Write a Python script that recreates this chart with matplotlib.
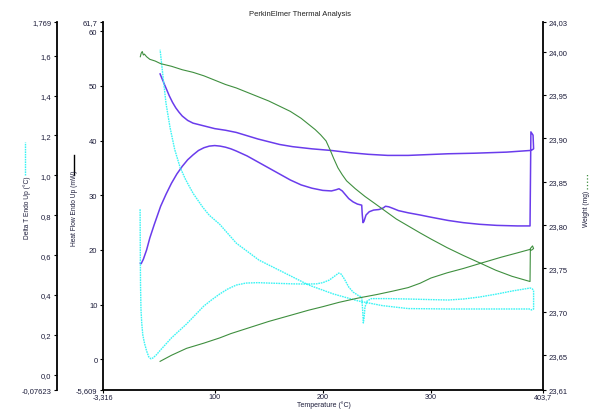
import numpy as np
import matplotlib.pyplot as plt
from matplotlib.lines import Line2D

plt.rcParams['font.family'] = ['Liberation Sans', 'DejaVu Sans']

###################################################################
# heat flow (mW) - heating run, then cooling run
hf_heat_T = [31.2, 32, 34, 37, 40, 44, 50, 55, 60, 65, 70, 75, 80, 85, 90,
             95, 100, 105, 110, 115, 120, 130, 140, 150, 160, 170, 180, 190,
             200, 208, 212, 215, 218, 221, 224, 228, 232, 236, 236.5, 237.2,
             238, 240, 243, 247, 252, 256, 258, 261, 265, 270, 279, 290, 300,
             316, 330, 345, 361, 380, 391.7]
hf_heat = [17.6, 17.5, 18.3, 20.0, 22.2, 24.6, 28.0, 30.2, 32.2, 33.9, 35.3,
           36.5, 37.4, 38.2, 38.7, 39.0, 39.1, 39.0, 38.8, 38.5, 38.1, 37.2,
           36.1, 35.0, 33.9, 32.8, 31.9, 31.3, 30.9, 30.8, 31.0, 31.2, 30.8,
           30.1, 29.4, 28.8, 28.4, 28.2, 26.5, 25.0, 25.2, 26.4, 27.0, 27.3,
           27.4, 27.7, 28.0, 27.9, 27.6, 27.2, 26.8, 26.4, 26.0, 25.4, 25.0,
           24.7, 24.5, 24.4, 24.4]
hf_turn_T = [392.5, 394.5, 395, 393.5]
hf_turn = [41.6, 41.0, 38.5, 38.3]
hf_cool_T = [391.7, 370, 340, 316, 279, 260, 242, 225, 208, 190, 172, 160,
             150, 140, 130, 120, 110, 100, 90, 80, 75, 70, 67, 64, 61, 58,
             55, 52, 49.5]
hf_cool = [38.2, 37.9, 37.7, 37.6, 37.3, 37.3, 37.5, 37.8, 38.2, 38.5, 38.9,
           39.3, 39.8, 40.3, 40.9, 41.5, 41.9, 42.2, 42.7, 43.2, 43.7, 44.5,
           45.2, 46.0, 47.0, 48.2, 49.6, 51.0, 52.2]

# delta T (C)
dt_heat_T = [31, 31.1, 31.2, 31.4, 31.8, 32.5, 33.5, 35, 37, 39, 41, 43, 46,
             50, 55, 60, 67, 74, 82, 90, 97, 104.6, 112, 120, 129, 140, 150,
             172, 185, 194, 200, 206, 211, 214.7, 217, 220, 224, 228, 233,
             236, 236.8, 237.5, 238.3, 239, 241, 245, 260, 279, 300, 316,
             330, 345, 361, 375, 391.7]
dt_heat = [0.83, 0.7, 0.6, 0.45, 0.33, 0.26, 0.2, 0.16, 0.12, 0.09, 0.08,
           0.085, 0.1, 0.125, 0.155, 0.185, 0.22, 0.255, 0.3, 0.345, 0.375,
           0.405, 0.43, 0.45, 0.46, 0.462, 0.46, 0.456, 0.455, 0.456, 0.462,
           0.475, 0.495, 0.51, 0.505, 0.48, 0.44, 0.415, 0.397, 0.39, 0.33,
           0.26, 0.29, 0.34, 0.37, 0.382, 0.382, 0.38, 0.377, 0.375, 0.38,
           0.39, 0.405, 0.42, 0.435]
dt_turn_T = [392, 394, 395, 395, 393]
dt_turn = [0.435, 0.43, 0.42, 0.33, 0.325]
dt_cool_T = [391.7, 360, 316, 279, 255, 233, 210, 187, 165, 141, 120, 104.6,
             95, 89, 80, 73, 68, 63, 58.7, 55, 52.3, 49.5]
dt_cool = [0.33, 0.33, 0.33, 0.332, 0.347, 0.37, 0.405, 0.45, 0.51, 0.575,
           0.66, 0.755, 0.8, 0.84, 0.91, 0.98, 1.04, 1.13, 1.24, 1.36, 1.49,
           1.63]

# weight (mg)
w_heat_T = [31.2, 32, 33, 34, 35, 37, 40, 45, 50, 60, 70, 80, 90, 100, 110,
            120, 130, 140, 150, 160, 170, 180, 187, 193, 198, 203, 207, 210,
            214, 218, 222, 230, 239, 248, 258, 268, 279, 290, 300, 315, 330,
            346, 360, 375, 391.7]
w_heat = [23.994, 23.998, 24.0, 23.996, 23.997, 23.994, 23.991, 23.989,
          23.986, 23.983, 23.979, 23.976, 23.972, 23.967, 23.962, 23.958,
          23.953, 23.948, 23.943, 23.937, 23.931, 23.923, 23.916, 23.91,
          23.904, 23.897, 23.886, 23.877, 23.866, 23.858, 23.851, 23.842,
          23.833, 23.825, 23.816, 23.807, 23.799, 23.791, 23.784, 23.774,
          23.765, 23.756, 23.748, 23.741, 23.735]
w_turn_T = [392, 394, 395, 393]
w_turn = [23.773, 23.776, 23.773, 23.771]
w_cool_T = [391.7, 380, 365, 346, 330, 315, 300, 290, 279, 265, 250, 233,
            215, 200, 187, 170, 150, 130, 115, 104.6, 90, 74, 60, 49.5]
w_cool = [23.772, 23.768, 23.763, 23.756, 23.75, 23.745, 23.739, 23.733,
          23.728, 23.724, 23.72, 23.716, 23.711, 23.706, 23.702, 23.696,
          23.689, 23.681, 23.675, 23.67, 23.664, 23.658, 23.65, 23.643]

# axis ranges / tick labels (comma decimals as in the original)
x_rng = (-3.316, 403.7)
x_ticks = [-3.316, 100, 200, 300, 403.7]
x_lbls = ['-3,316', '100', '200', '300', '403,7']
hf_rng = (-5.609, 61.7)
hf_ticks = [-5.609, 0, 10, 20, 30, 40, 50, 60, 61.7]
hf_lbls = ['-5,609', '0', '10', '20', '30', '40', '50', '60', '61,7']
dt_rng = (-0.07623, 1.769)
dt_ticks = [-0.07623, 0.0, 0.2, 0.4, 0.6, 0.8, 1.0, 1.2, 1.4, 1.6, 1.769]
dt_lbls = ['-0,07623', '0,0', '0,2', '0,4', '0,6', '0,8', '1,0', '1,2',
           '1,4', '1,6', '1,769']
w_rng = (23.61, 24.034)
w_ticks = [23.61, 23.65, 23.70, 23.75, 23.80, 23.85, 23.90, 23.95, 24.00,
           24.034]
w_lbls = ['23,61', '23,65', '23,70', '23,75', '23,80', '23,85', '23,90',
          '23,95', '24,00', '24,03']
###################################################################

purple = '#6a3cec'
cyan = '#3cf4f4'
green = '#3f8f3f'
tcol = '#1c1c3a'
fs = 5.5

fig = plt.figure(figsize=(5.93, 4.10), dpi=100)
ax = fig.add_axes([103/593, 19/410, 440/593, 368/410])
axd = ax.twinx()
axw = ax.twinx()

# heat flow
ax.plot(hf_heat_T + hf_turn_T + hf_cool_T, hf_heat + hf_turn + hf_cool,
        color=purple, lw=1.1)
ax.set_xlim(*x_rng)
ax.set_ylim(*hf_rng)

# delta T on a second left axis, 46 px left of the heat flow one
axd.plot(dt_heat_T + dt_turn_T + dt_cool_T, dt_heat + dt_turn + dt_cool,
         color=cyan, lw=1.0, ls=(0, (1.2, 0.6)))
axd.set_ylim(*dt_rng)
axd.yaxis.set_ticks_position('left')
axd.spines['left'].set_position(('outward', 46 * 72 / 100))

# weight
axw.plot(w_heat_T + w_turn_T + w_cool_T, w_heat + w_turn + w_cool,
         color=green, lw=0.8)
axw.set_ylim(*w_rng)

for a in (ax, axd, axw):
    for s in a.spines.values():
        s.set_visible(False)
        s.set_linewidth(1.3)
ax.spines['left'].set_visible(True)
ax.spines['bottom'].set_visible(True)
axd.spines['left'].set_visible(True)
axw.spines['right'].set_visible(True)

ax.set_xticks(x_ticks)
ax.set_xticklabels(x_lbls)
ax.set_yticks(hf_ticks)
ax.set_yticklabels(hf_lbls)
axd.set_yticks(dt_ticks)
axd.set_yticklabels(dt_lbls)
axw.set_yticks(w_ticks)
axw.set_yticklabels(w_lbls)
for a in (ax, axd, axw):
    a.tick_params(direction='out', length=2.5, width=0.8, labelsize=fs,
                  labelcolor=tcol, pad=1.5)
ax.tick_params(axis='x', length=2, pad=0.5, labelsize=5.2)

# titles, and axis names with small line keys
fig.text(300/593, 1 - 14/410, 'PerkinElmer Thermal Analysis', fontsize=fs,
         ha='center', va='center', color='#222222')
fig.text(324/593, 1 - 409.5/410, 'Temperature (\u00b0C)', fontsize=5,
         ha='center', va='bottom', color=tcol)
fig.text(27/593, 1 - 208/410, 'Delta T Endo Up (\u00b0C)', fontsize=4.8,
         rotation=90, ha='center', va='center', color=tcol)
fig.text(75/593, 1 - 208/410, 'Heat Flow Endo Up (mW)', fontsize=4.8,
         rotation=90, ha='center', va='center', color=tcol)
fig.text(586/593, 1 - 209/410, 'Weight (mg)', fontsize=4.8,
         rotation=90, ha='center', va='center', color=tcol)
fig.add_artist(Line2D([25/593, 25/593], [1 - 176/410, 1 - 143/410],
                      color=cyan, lw=1.0, ls=(0, (1.2, 0.6))))
fig.add_artist(Line2D([74/593, 74/593], [1 - 176/410, 1 - 156/410],
                      color='black', lw=1.0))
fig.add_artist(Line2D([587/593, 587/593], [1 - 190/410, 1 - 175/410],
                      color=green, lw=0.9, ls=':'))

fig.savefig('out.png', dpi=100)
